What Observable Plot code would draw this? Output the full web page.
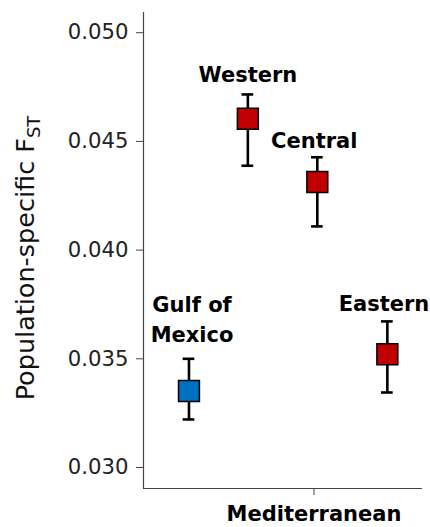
<!DOCTYPE html>
<html><head><meta charset="utf-8">
<script src="https://cdn.jsdelivr.net/npm/d3@7"></script>
<script src="https://cdn.jsdelivr.net/npm/@observablehq/plot@0.6"></script>
<style>body{margin:0;background:#fff} svg{display:block}</style>
</head><body><div id="chart"></div>
<script>
const sites = ["Gulf of Mexico", "Western", "Central", "Eastern"];
const siteLabels = ["Gulf of\nMexico", "Western", "Central", "Eastern"];
const region = ["Gulf of Mexico", "Mediterranean", "Mediterranean", "Mediterranean"];
const xPos = [1.63, 3.74, 6.23, 8.74];
const fst = [0.03352, 0.04604, 0.04313, 0.03521];
const lower = [0.03221, 0.04388, 0.04109, 0.03345];
const upper = [0.03500, 0.04716, 0.04427, 0.03672];
const labelX = [1.74, 3.74, 6.12, 8.62];
const labelY = [0.03690, 0.04819, 0.04513, 0.03765];
const yTicks = [0.030, 0.035, 0.040, 0.045, 0.050];
const xTickPos = [6.11];
const xTickLabels = ["Mediterranean"];
const regionColors = ["#0070C0", "#C00000"];
const regionNames = ["Gulf of Mexico", "Mediterranean"];

const data = sites.map((s, i) => ({
  site: s, label: siteLabels[i], region: region[i], x: xPos[i],
  fst: fst[i], lo: lower[i], hi: upper[i], lx: labelX[i], ly: labelY[i]
}));
const capHalf = 0.21;
const xDomain = [0, 10];
const yDomain = [0.029034, 0.050929];
const FONT = "DejaVu Sans";

const chart = Plot.plot({
  width: 430, height: 527,
  marginTop: 12, marginBottom: 39, marginLeft: 143, marginRight: 8,
  style: {fontFamily: FONT, background: "#fff", overflow: "visible"},
  x: {domain: xDomain},
  y: {domain: yDomain},
  color: {domain: regionNames, range: regionColors},
  marks: [
    Plot.ruleX([xDomain[0]], {stroke: "#444", strokeWidth: 1.2}),
    Plot.ruleY([yDomain[0]], {stroke: "#444", strokeWidth: 1.2}),
    Plot.axisY({ticks: yTicks, tickFormat: d3.format(".3f"), tickSize: 7, tickPadding: 8,
      fontSize: 21.2, label: null, stroke: "#444", fill: "#222"}),
    Plot.axisX({ticks: xTickPos, tickFormat: (d, i) => xTickLabels[i], tickSize: 7, tickPadding: 11,
      fontSize: 21, fontWeight: "bold", label: null, stroke: "#444", fill: "#000"}),
    Plot.ruleX(data, {x: "x", y1: "lo", y2: "hi", stroke: "#000", strokeWidth: 2.6}),
    Plot.ruleY(data, {y: "lo", x1: d => d.x - capHalf, x2: d => d.x + capHalf, stroke: "#000", strokeWidth: 2.6}),
    Plot.ruleY(data, {y: "hi", x1: d => d.x - capHalf, x2: d => d.x + capHalf, stroke: "#000", strokeWidth: 2.6}),
    Plot.dot(data, {x: "x", y: "fst", symbol: "square", r: 11.8, fill: "region", stroke: "#000", strokeWidth: 1.5}),
    Plot.text(data, {x: "lx", y: "ly", text: "label", fontSize: 21, fontWeight: "bold", fill: "#000",
      lineHeight: 1.42, textAnchor: "middle"})
  ]
});

const svg = d3.select(chart);
const title = svg.append("text")
  .attr("transform", "translate(34,258) rotate(-90)")
  .attr("text-anchor", "middle")
  .attr("font-family", FONT)
  .attr("font-size", 25.5)
  .attr("fill", "#111");
title.append("tspan").text("Population-specific F");
title.append("tspan").attr("font-size", 18).attr("dy", "0.35em").text("ST");

document.getElementById("chart").appendChild(chart);
</script>
</body></html>
